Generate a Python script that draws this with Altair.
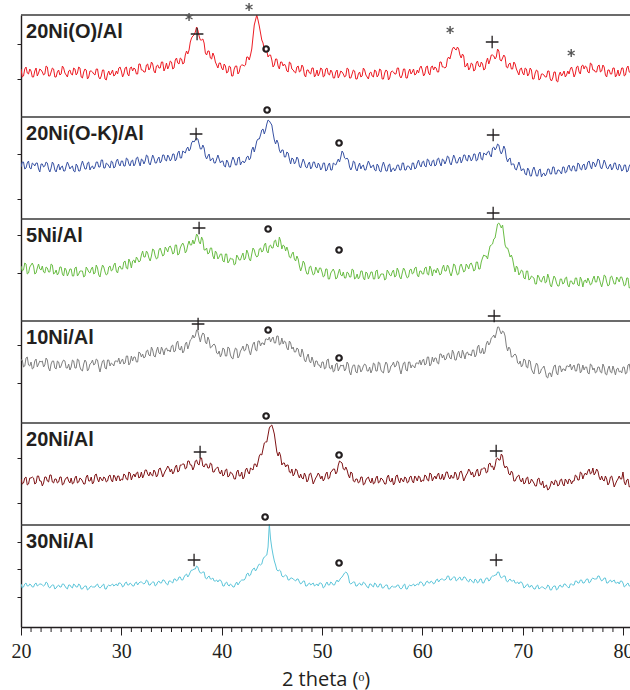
import altair as alt
import pandas as pd

# ---------------- data ----------------
X_START = 20.0
X_STEP = 0.125         # sampling step of the patterns, degrees 2-theta
PANEL_H = 102          # vertical room of one pattern (plot units)

names = ["20Ni(O)/Al", "20Ni(O-K)/Al", "5Ni/Al", "10Ni/Al", "20Ni/Al", "30Ni/Al"]
colors = ["#ed1c24", "#3953a4", "#6abd45", "#808080", "#7f1416", "#5fc6da"]

s_20NiO = [
    48,40,41,48,50,44,43,48,46,40,40,46,49,41,44,48,47,45,42,43,51,50,41,41,45,49,48,40,40,45,47,42,43,51,49,44,42,40,46,47,
    43,42,49,48,42,44,50,49,40,39,45,48,47,38,40,46,46,45,43,42,48,48,40,38,41,47,47,38,37,43,46,42,44,47,41,42,46,43,49,50,
    46,40,43,49,50,43,41,49,50,46,49,48,43,43,53,53,47,47,45,45,52,53,47,49,55,53,46,44,51,52,49,49,55,55,46,49,54,48,51,56,
    55,48,49,57,59,54,53,59,58,53,54,62,66,63,67,75,79,81,82,85,90,87,81,77,77,78,74,64,62,66,66,59,58,64,61,55,52,49,54,54,
    49,47,53,51,44,45,51,50,41,41,48,51,51,43,45,51,52,52,51,52,60,60,57,62,68,80,92,97,102,97,91,84,77,74,67,65,66,60,62,62,
    57,50,52,58,58,51,48,55,55,51,53,51,46,45,55,54,48,47,45,44,50,51,45,46,52,50,42,40,47,47,44,43,49,49,40,42,47,41,44,49,
    48,40,41,48,49,43,42,47,45,39,39,45,47,39,42,46,45,43,40,41,49,48,39,39,43,47,46,38,38,43,45,40,41,49,47,42,40,38,44,45,
    41,40,47,46,40,42,48,47,38,38,44,47,46,37,39,45,46,45,43,43,49,49,41,39,42,48,48,39,39,45,48,43,45,48,42,43,47,44,49,51,
    47,41,43,50,51,44,42,50,51,47,50,49,45,45,55,55,50,50,49,50,58,60,58,63,68,70,68,67,70,68,62,59,63,61,50,51,54,47,49,54,
    53,46,47,54,56,51,50,55,53,47,48,55,59,53,57,62,62,61,58,60,68,66,57,56,59,62,60,50,49,53,54,48,48,55,53,48,45,42,48,49,
    44,42,49,48,41,43,49,47,38,38,44,47,46,37,38,43,43,42,40,40,46,46,38,36,39,45,45,36,35,42,45,41,43,46,40,42,46,43,48,50,
    46,40,43,50,51,45,43,51,52,48,51,50,45,44,54,53,47,47,45,45,51,52,45,46,52,50,42,40,47,47,43,43,49,49,40,42,47,41,44,49,
    49,41,42,49,51,45,44,
]
s_20NiOK = [
    52,57,57,50,51,56,58,51,50,56,55,53,56,56,50,47,55,55,52,53,57,56,50,47,51,57,55,49,47,52,55,49,52,53,48,48,53,57,54,50,
    52,53,48,47,55,53,48,48,54,58,54,50,50,56,57,49,52,53,50,52,57,57,52,52,59,59,51,51,56,55,53,51,58,57,51,52,58,60,55,53,
    58,58,53,53,61,60,55,53,58,59,53,55,61,62,57,53,60,59,55,58,64,63,56,54,59,64,61,56,56,60,62,56,58,64,64,59,58,64,62,58,
    60,65,65,58,60,66,68,61,61,68,67,66,70,72,68,70,76,78,77,79,81,80,75,70,70,74,71,63,60,63,65,58,60,61,56,56,60,64,60,56,
    58,58,53,52,59,57,52,52,58,62,59,54,54,61,62,54,57,58,56,58,62,63,59,61,69,72,67,72,78,80,80,84,89,90,85,89,95,99,98,96,
    94,86,79,75,79,76,69,66,69,69,62,62,67,66,60,55,61,60,55,57,62,60,53,51,56,60,57,52,51,55,57,50,52,57,57,52,51,56,54,49,
    51,56,56,48,49,54,56,49,49,56,55,54,57,60,57,62,68,66,61,60,61,59,52,49,52,58,57,50,48,53,56,50,53,54,49,49,54,58,55,51,
    53,54,49,48,55,53,48,47,53,57,53,48,48,54,55,47,50,51,48,50,54,54,49,49,56,56,49,49,53,53,51,49,56,56,50,51,56,59,54,52,
    57,58,53,52,60,59,54,53,58,59,53,54,60,61,56,53,60,59,55,58,63,62,56,54,59,64,61,56,56,60,62,56,59,64,64,59,58,64,62,58,
    60,65,65,58,59,65,67,60,59,66,65,64,67,68,64,62,71,72,69,71,75,74,68,65,68,73,70,61,57,60,61,54,55,55,50,49,53,57,53,48,
    50,50,45,44,51,49,43,43,49,52,48,43,43,49,50,42,45,46,43,45,50,50,45,45,52,52,45,45,49,49,47,45,52,52,46,47,52,54,49,48,
    53,53,48,48,56,55,50,49,54,55,49,51,57,58,53,50,57,56,52,55,60,59,52,50,54,59,56,51,50,53,55,49,51,56,56,50,49,55,53,48,
    49,54,54,47,48,53,55,
]
s_5Ni = [
    55,50,51,58,57,47,48,54,56,58,55,47,48,53,57,52,51,55,49,48,54,53,49,49,57,56,47,48,51,46,48,54,54,47,45,53,51,45,48,52,
    52,45,45,53,54,45,47,50,50,50,44,45,54,52,49,48,52,54,47,48,56,53,46,44,51,56,54,49,46,47,54,55,50,51,56,58,50,48,54,55,
    52,52,59,60,53,52,62,59,53,60,61,58,64,62,59,60,66,70,64,64,70,68,63,60,65,72,71,65,62,63,71,73,69,65,66,74,72,69,74,75,
    72,67,68,76,76,66,67,73,76,78,75,68,70,76,80,76,76,81,77,81,87,85,79,77,84,81,71,71,73,67,68,73,73,65,62,70,68,62,64,67,
    67,60,59,67,67,58,60,63,62,62,56,57,66,64,61,61,65,68,61,63,71,68,62,60,67,73,71,66,64,65,72,73,69,70,76,78,70,68,75,76,
    73,73,80,81,75,74,84,80,72,76,75,70,74,70,64,63,67,69,62,60,65,62,55,50,54,60,58,51,47,47,54,55,50,46,47,54,51,48,53,53,
    49,44,45,52,52,42,42,48,50,52,49,42,43,48,52,46,45,49,43,43,49,48,44,44,52,51,42,43,47,42,44,50,50,43,41,49,48,42,45,49,
    49,42,42,50,51,42,44,47,47,47,41,42,51,49,46,45,49,51,44,45,53,50,44,42,48,53,51,46,43,44,51,52,47,48,53,54,46,44,50,50,
    47,47,53,54,47,46,55,52,45,51,51,48,53,50,46,47,53,56,50,50,56,54,48,45,50,57,56,50,46,47,55,57,53,49,50,57,55,52,57,58,
    55,50,51,59,59,52,52,59,63,66,65,65,62,69,75,76,77,82,83,90,97,98,96,93,96,86,76,73,73,69,64,66,62,55,49,55,53,46,48,51,
    50,43,42,50,50,41,42,45,44,43,37,37,46,44,40,39,43,45,38,39,47,43,36,34,40,45,43,38,35,35,42,42,37,38,43,44,36,34,40,40,
    37,37,43,43,36,35,44,41,34,40,41,38,43,40,36,37,42,45,39,39,45,43,38,34,39,46,45,39,35,36,44,45,41,37,37,44,42,39,44,44,
    40,35,36,43,43,33,34,
]
s_10Ni = [
    63,63,56,57,65,66,58,57,61,54,55,62,64,56,59,62,61,62,56,58,65,63,55,52,59,62,62,55,54,62,61,55,57,61,63,62,55,55,59,53,
    56,63,62,55,55,64,63,56,53,52,59,63,61,52,54,59,60,63,58,59,64,63,56,51,57,62,63,55,54,63,63,57,60,59,57,62,62,61,65,59,
    62,64,59,60,67,67,58,60,67,62,66,66,61,61,71,70,66,69,65,66,72,73,68,67,76,73,67,66,72,76,70,69,76,73,68,74,75,72,73,71,
    77,78,71,72,80,82,74,73,77,70,72,79,81,74,78,83,84,88,85,87,93,92,86,81,87,90,89,81,79,86,83,75,76,78,79,77,70,69,72,66,
    69,75,74,67,67,76,75,68,65,64,71,75,74,65,67,72,74,77,72,73,79,78,72,68,74,79,81,73,72,82,82,77,80,80,78,84,84,83,86,81,
    84,86,80,80,87,87,78,79,85,79,82,81,75,73,82,80,74,76,71,71,75,74,68,66,74,70,63,61,66,69,62,60,66,62,56,62,62,58,58,55,
    61,61,54,55,63,64,55,54,58,51,52,59,60,52,55,58,57,58,52,54,61,59,51,48,55,58,58,51,50,58,57,51,53,57,59,58,52,52,56,50,
    53,60,59,52,52,61,60,53,51,50,57,61,59,50,52,57,58,61,56,57,62,61,54,49,55,60,61,53,52,61,61,55,58,57,55,60,60,59,63,58,
    62,64,58,59,66,66,57,59,66,61,65,65,60,59,69,69,65,68,63,64,69,70,65,64,73,70,63,63,69,72,66,65,73,69,64,70,71,68,69,67,
    73,73,66,68,76,78,70,70,75,69,71,79,82,78,80,85,86,88,85,90,96,96,92,89,92,91,87,77,72,76,74,66,66,68,69,67,60,59,62,56,
    58,64,63,56,55,63,62,54,51,49,56,60,58,49,50,54,55,57,52,46,45,50,50,46,52,57,58,50,48,57,57,51,54,54,52,57,57,56,59,53,
    56,58,52,52,59,59,50,52,58,53,56,56,50,49,59,58,53,55,50,51,56,56,51,50,59,56,49,48,54,57,51,50,57,53,48,54,55,51,52,50,
    56,56,49,50,58,59,51,
]
s_20Ni = [
    46,41,42,47,48,40,41,47,47,48,47,41,42,49,49,44,44,39,42,48,48,44,43,50,50,43,42,46,46,42,43,48,48,40,41,45,47,48,44,42,
    47,41,42,47,49,42,43,47,46,44,41,41,48,50,44,44,48,41,43,50,51,46,43,48,46,44,48,47,43,44,49,50,45,43,50,48,44,49,49,44,
    46,45,51,50,46,45,53,52,45,49,51,48,52,53,47,48,53,47,50,55,55,51,49,53,50,49,55,53,48,50,56,57,53,48,51,54,56,59,57,53,
    56,51,53,58,60,53,54,60,60,61,61,56,57,64,64,60,60,55,58,64,65,61,60,67,67,59,58,61,61,57,57,62,61,53,53,56,57,58,53,51,
    55,49,50,55,56,48,49,53,52,50,46,46,53,55,49,49,53,46,48,55,57,53,51,57,56,55,61,61,58,63,69,71,70,76,82,83,83,90,97,99,
    100,96,91,82,73,69,73,69,60,62,62,58,60,60,53,52,56,49,51,56,55,50,47,51,47,46,52,49,43,45,51,52,47,41,44,47,49,52,50,46,
    49,44,46,51,53,46,47,53,54,56,56,51,53,60,64,63,62,56,55,58,55,50,47,53,52,44,43,46,46,42,43,48,48,40,41,45,47,48,44,42,
    47,41,42,47,49,42,43,47,46,44,41,41,48,50,44,43,47,40,42,49,50,45,42,47,45,43,48,47,42,43,48,49,44,42,49,47,44,49,48,43,
    45,44,50,49,45,44,52,51,44,47,49,46,50,52,46,46,51,45,48,53,53,48,46,50,47,47,53,51,45,47,53,54,50,44,47,50,52,56,54,50,
    53,48,49,54,56,49,50,56,56,57,57,52,53,61,62,58,59,55,59,66,67,65,65,71,69,60,57,59,57,51,50,54,52,44,44,47,49,50,45,43,
    47,41,42,47,48,41,42,46,44,42,39,39,46,47,41,40,44,37,39,40,35,36,39,44,42,40,45,44,39,40,45,46,41,39,46,44,41,46,45,41,
    44,44,50,49,45,45,53,52,46,50,52,50,54,56,51,52,57,50,52,56,54,48,45,49,45,44,49,46,40,42,48,49,44,38,41,44,46,49,46,46,
    53,43,40,45,46,38,39,
]
s_30Ni = [
    43,39,40,43,44,41,41,43,42,40,40,43,44,41,42,43,43,42,41,42,45,44,40,39,41,42,42,38,39,41,42,40,40,43,43,41,39,38,42,42,
    40,39,43,42,40,40,43,42,38,38,40,41,41,37,38,40,41,40,40,40,42,43,40,39,40,42,43,38,38,41,42,41,42,43,41,42,43,41,44,44,
    43,40,41,44,45,42,42,44,43,41,41,44,45,42,44,45,45,44,43,44,47,46,42,42,44,45,45,41,42,45,46,44,44,47,47,45,43,42,46,46,
    45,44,48,48,46,47,50,50,47,47,50,52,53,50,52,55,57,57,58,58,61,60,56,54,54,55,55,49,48,50,51,48,48,49,46,46,47,45,47,47,
    45,41,41,44,45,42,41,43,42,40,40,43,45,42,44,46,47,47,47,49,53,54,51,52,56,58,59,56,58,61,63,62,63,68,70,71,72,80,103,88,
    79,72,66,62,57,56,57,56,51,50,51,52,51,47,47,49,49,48,47,46,48,48,45,43,44,46,46,41,41,43,44,42,43,44,41,42,43,41,44,44,
    43,39,40,43,45,42,42,45,44,42,42,45,47,45,47,49,50,52,54,55,54,51,44,43,44,45,45,41,41,43,44,42,42,45,44,42,40,39,43,43,
    41,40,44,43,40,40,43,43,39,39,41,42,42,38,38,40,41,40,40,40,42,42,39,38,39,42,43,38,38,41,42,41,42,43,41,42,43,42,45,45,
    44,41,42,45,46,44,44,46,45,43,44,47,48,45,47,48,48,47,47,48,51,51,47,47,49,50,50,46,47,49,50,47,47,50,50,48,46,45,48,47,
    45,44,48,47,44,45,48,48,44,44,47,49,49,46,47,50,51,51,52,52,55,55,51,49,50,51,51,46,45,47,48,46,46,47,44,44,45,43,45,45,
    43,39,40,42,43,40,40,42,40,38,38,41,42,38,39,40,40,39,38,39,42,41,37,37,40,41,41,37,38,41,42,40,40,43,43,41,40,39,43,43,
    42,42,46,46,44,44,47,47,44,44,46,48,48,44,45,48,49,48,48,48,51,51,48,46,47,49,49,44,44,46,47,45,46,47,44,44,45,43,46,46,
    44,40,41,43,44,41,41,
]
series = [s_20NiO, s_20NiOK, s_5Ni, s_10Ni, s_20Ni, s_30Ni]

# peak markers: panel index (0 = top), 2-theta, height inside the panel
plus_panel = [0, 0, 1, 1, 2, 2, 3, 3, 4, 4, 5, 5]
plus_deg = [37.55, 66.96, 37.45, 67.06, 37.75, 67.06, 37.65, 67.16, 37.85, 67.36, 37.25, 67.36]
plus_h = [83, 75, 85, 84, 93, 108, 99, 107, 73, 74, 67, 67]

circ_panel = [0, 1, 1, 2, 2, 3, 3, 4, 4, 5, 5]
circ_deg = [44.43, 44.53, 51.70, 44.63, 51.70, 44.63, 51.70, 44.43, 51.70, 44.33, 51.70]
circ_h = [68, 109, 76, 92, 71, 93, 65, 109, 70, 110, 64]

star_panel = [0, 0, 0, 0]
star_deg = [36.75, 42.73, 62.77, 74.84]
star_h = [100, 110, 87, 64]

label_deg = 20.5
label_h = 79

# left-axis tick heights inside each panel (panel index, height)
ytick_panel = [0, 0, 1, 1, 2, 2, 3, 3, 4, 4, 5, 5, 5]
ytick_h = [38, 73, 20, 65, 48, 86, 40, 78, 22, 67, 30, 58, 85]

x_major = [20, 30, 40, 50, 60, 70, 80]
x_minor = list(range(20, 81))

# ---------------- tables ----------------
n_panels = len(names)

def offset(p):
    return PANEL_H * (n_panels - 1 - p)

rows = []
for p, vals in enumerate(series):
    for i, v in enumerate(vals):
        rows.append({"panel": names[p], "x": X_START + X_STEP * i, "y": offset(p) + v})
df_lines = pd.DataFrame(rows)

df_plus = pd.DataFrame({"x": plus_deg, "y": [offset(p) + h for p, h in zip(plus_panel, plus_h)]})
df_circ = pd.DataFrame({"x": circ_deg, "y": [offset(p) + h for p, h in zip(circ_panel, circ_h)]})
df_star = pd.DataFrame({"x": star_deg, "y": [offset(p) + h for p, h in zip(star_panel, star_h)]})
df_lab = pd.DataFrame({"name": names, "x": [label_deg] * n_panels,
                       "y": [offset(p) + label_h for p in range(n_panels)]})
df_div = pd.DataFrame({"y": [PANEL_H * (k + 1) for k in range(n_panels)]})
df_minor = pd.DataFrame({"x": [v for v in x_minor if v not in x_major]})
y_tick_vals = [offset(p) + h for p, h in zip(ytick_panel, ytick_h)]

X_DOM = [20, 80.7]
Y_DOM = [0, PANEL_H * n_panels]

xscale = alt.Scale(domain=X_DOM, nice=False, zero=False)
yscale = alt.Scale(domain=Y_DOM, nice=False, zero=False)

x_axis = alt.Axis(
    values=x_major, labelOverlap=False, labelFlush=False,
    tickSize=8, tickColor="#231f20", tickWidth=1, domainColor="#231f20", domainWidth=1.4,
    labelFont="Liberation Serif", labelFontSize=20, labelColor="#231f20",
    labelPadding=6, grid=False,
    title="2 theta (ᵒ)", titleFont="Open Sans", titleFontSize=20, titleFontWeight="normal",
    titleColor="#231f20", titleBaseline="alphabetic", titleY=58,
)
y_axis = alt.Axis(values=y_tick_vals, labels=False, title=None, grid=False,
                  tickSize=4, tickColor="#231f20", tickWidth=1,
                  domainColor="#231f20", domainWidth=1.4)

X = alt.X("x:Q", scale=xscale, axis=x_axis)
Y = alt.Y("y:Q", scale=yscale, axis=y_axis)

lines = alt.Chart(df_lines).mark_line(strokeWidth=1, clip=True).encode(
    x=X, y=Y,
    color=alt.Color("panel:N", scale=alt.Scale(domain=names, range=colors), legend=None),
    detail="panel:N",
)

# minor ticks of the 2-theta axis (every degree), drawn below the axis line
minor = alt.Chart(df_minor).mark_rule(color="#231f20", strokeWidth=1).encode(
    x=X, y=alt.value(612), y2=alt.value(617),
)

dividers = alt.Chart(df_div).mark_rule(color="#3a3a3a", strokeWidth=1.4).encode(y=Y)

plus = alt.Chart(df_plus).mark_point(
    shape="M-1,0L1,0M0,-1L0,1", filled=False, size=160, strokeWidth=1.3,
    color="#231f20", opacity=1
).encode(x=X, y=Y)

circ = alt.Chart(df_circ).mark_point(
    shape="circle", filled=False, size=30, strokeWidth=2.2, color="#231f20", opacity=1
).encode(x=X, y=Y)

star = alt.Chart(df_star).mark_point(
    shape="M0,-1L0,1M-0.87,-0.5L0.87,0.5M-0.87,0.5L0.87,-0.5",
    filled=False, size=64, strokeWidth=1.4, color="#555555", opacity=1
).encode(x=X, y=Y)

labels = alt.Chart(df_lab).mark_text(
    align="left", baseline="alphabetic", font="Liberation Sans", fontSize=20,
    fontWeight="bold", color="#231f20"
).encode(x=X, y=Y, text="name:N")

chart = alt.layer(lines, minor, dividers, plus, circ, star, labels).properties(
    width=609, height=612,
    padding={"left": 21, "top": 15, "right": 0, "bottom": 63},
    autosize=alt.AutoSizeParams(type="none"),
    background="white",
).configure_view(stroke=None)

chart.save("out.html", embed_options={"renderer": "svg", "actions": False})
